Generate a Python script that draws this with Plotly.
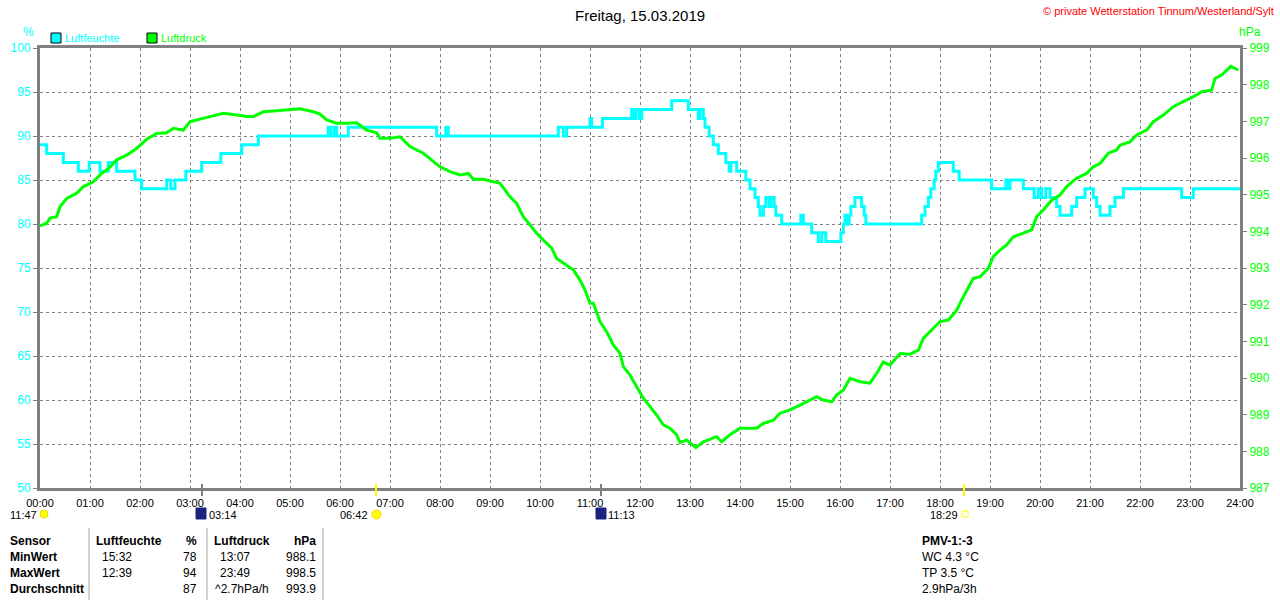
import plotly.graph_objects as go

# Luftfeuchte (%), Stufen: Minute des Tages -> Wert
hum_min = [0, 8, 28, 46, 59, 72, 82, 92, 114, 122, 152, 157, 162, 175, 194, 217, 242, 262,
           346, 349, 353, 356, 370, 476, 487, 490, 622, 628, 632, 660, 662, 675, 710, 713,
           715, 719, 722, 758, 778, 790, 792, 796, 798, 803, 808, 814, 823, 827, 829, 836,
           847, 852, 858, 862, 864, 868, 871, 875, 877, 881, 883, 890, 913, 916, 926, 934,
           938, 943, 961, 964, 966, 968, 971, 973, 978, 986, 989, 991, 1058, 1062, 1066,
           1069, 1073, 1075, 1078, 1096, 1103, 1142, 1159, 1162, 1164, 1180, 1193, 1198,
           1202, 1207, 1212, 1220, 1224, 1238, 1244, 1254, 1264, 1268, 1272, 1284, 1290,
           1300, 1370, 1384, 1440]
hum_val = [89, 88, 87, 86, 87, 86, 87, 86, 85, 84, 85, 84, 85, 86, 87, 88, 89, 90,
           91, 90, 91, 90, 91, 90, 91, 90, 91, 90, 91, 92, 91, 92, 93, 92,
           93, 92, 93, 94, 93, 92, 93, 92, 91, 90, 89, 88, 87, 86, 87, 86,
           85, 84, 83, 82, 81, 82, 83, 82, 83, 82, 81, 80, 81, 80, 79, 78,
           79, 78, 79, 80, 81, 80, 81, 82, 83, 82, 81, 80, 81, 82, 83,
           84, 85, 86, 87, 86, 85, 84, 85, 84, 85, 84, 83, 84,
           83, 84, 83, 82, 81, 82, 83, 84, 83, 82, 81, 82, 83,
           84, 83, 84, 84]

# Luftdruck (hPa)
press_min = [0, 8, 12, 20, 24, 32, 44, 52, 64, 72, 84, 92, 104, 116, 128, 140, 152, 160,
             172, 180, 192, 208, 220, 236, 248, 256, 268, 284, 300, 312, 328, 336, 344,
             356, 368, 380, 392, 404, 408, 420, 432, 444, 460, 472, 480, 492, 504, 514,
             520, 532, 544, 552, 564, 572, 580, 588, 596, 604, 614, 620, 632, 640, 648,
             654, 660, 664, 672, 680, 688, 696, 700, 708, 716, 724, 732, 740, 748, 756,
             764, 768, 776, 787, 796, 804, 812, 818, 828, 840, 852, 860, 868, 880, 888,
             900, 912, 924, 932, 940, 950, 956, 964, 972, 984, 996, 1004, 1012, 1020,
             1032, 1044, 1054, 1060, 1070, 1080, 1090, 1100, 1106, 1112, 1120, 1128,
             1138, 1144, 1152, 1160, 1168, 1180, 1190, 1196, 1204, 1214, 1224, 1232,
             1244, 1256, 1264, 1272, 1282, 1292, 1296, 1308, 1316, 1328, 1336, 1348,
             1360, 1372, 1384, 1394, 1406, 1410, 1418, 1429, 1438]
press_val = [994.15, 994.22, 994.36, 994.4, 994.67, 994.9, 995.04, 995.22, 995.35, 995.54,
             995.75, 995.95, 996.08, 996.26, 996.51, 996.67, 996.69, 996.81, 996.76,
             996.99, 997.06, 997.15, 997.22, 997.17, 997.13, 997.13, 997.26, 997.29,
             997.33, 997.34, 997.26, 997.2, 997.04, 996.95, 996.95, 996.96, 996.76,
             996.69, 996.54, 996.54, 996.58, 996.31, 996.13, 995.9, 995.76, 995.63,
             995.54, 995.58, 995.42, 995.42, 995.35, 995.31, 994.94, 994.76, 994.4,
             994.17, 993.95, 993.76, 993.54, 993.26, 993.08, 992.95, 992.67, 992.4,
             992.04, 992.04, 991.54, 991.26, 990.9, 990.67, 990.31, 990.08, 989.76,
             989.45, 989.22, 988.99, 988.72, 988.63, 988.45, 988.24, 988.31, 988.1,
             988.26, 988.33, 988.4, 988.26, 988.45, 988.63, 988.63, 988.63, 988.76,
             988.85, 989.04, 989.13, 989.26, 989.4, 989.49, 989.4, 989.35, 989.54,
             989.67, 989.99, 989.9, 989.86, 990.13, 990.44, 990.35, 990.67, 990.65,
             990.76, 991.08, 991.31, 991.54, 991.58, 991.85, 992.13, 992.4, 992.72,
             992.76, 992.99, 993.31, 993.49, 993.63, 993.85, 993.95, 994.04, 994.4,
             994.58, 994.85, 994.99, 995.22, 995.45, 995.58, 995.76, 995.85, 996.13,
             996.22, 996.35, 996.44, 996.63, 996.76, 996.99, 997.17, 997.4, 997.54,
             997.67, 997.81, 997.85, 998.17, 998.26, 998.5, 998.4]

hour_labels = ["%02d:00" % h for h in range(25)]

FONT = "Liberation Sans, Arial, sans-serif"
CYAN = "#00FFFF"
GREEN = "#00FF00"
GRAY = "#808080"


# pixel -> paper coordinates (plot area 40..1240 x 48..488)
def px(x):
    return (x - 40) / 1200


def py(y):
    return (488 - y) / 440


fig = go.Figure()
fig.add_trace(go.Scatter(x=[m / 60 for m in hum_min], y=hum_val, mode="lines",
                         line=dict(color=CYAN, width=3, shape="hv"), name="Luftfeuchte"))
fig.add_trace(go.Scatter(x=[m / 60 for m in press_min], y=press_val, mode="lines",
                         line=dict(color=GREEN, width=3), name="Luftdruck", yaxis="y2"))

fig.update_layout(
    width=1280, height=600,
    margin=dict(l=40, r=40, t=48, b=112),
    paper_bgcolor="white", plot_bgcolor="white",
    showlegend=False,
    font=dict(family=FONT, size=12, color="black"),
    xaxis=dict(range=[0, 24], tickvals=list(range(25)), ticktext=hour_labels,
               showgrid=True, gridcolor=GRAY, griddash="3px,3px", gridwidth=1,
               showline=True, linecolor=GRAY, linewidth=3, mirror=True,
               ticks="outside", ticklen=3, tickcolor="white", zeroline=False,
               automargin=False, tickfont=dict(size=11, color="black")),
    yaxis=dict(range=[50, 100], dtick=5, showgrid=True, gridcolor=GRAY, griddash="3px,3px",
               showline=True, linecolor=GRAY, linewidth=3, mirror=True,
               ticks="outside", ticklen=4, tickcolor=GRAY, zeroline=False,
               automargin=False, tickfont=dict(size=12, color=CYAN)),
    yaxis2=dict(range=[987, 999], dtick=1, overlaying="y", side="right", showgrid=False,
                showline=True, linecolor=GRAY, linewidth=3, ticks="outside", ticklen=4,
                tickcolor=GRAY, zeroline=False, automargin=False,
                tickfont=dict(size=12, color=GREEN)),
)

ann = []


def text(x, y, s, color="black", size=12, xanchor="left", bold=False):
    if bold:
        s = "<b>" + s + "</b>"
    ann.append(dict(x=px(x), y=py(y), xref="paper", yref="paper", text=s, showarrow=False,
                    xanchor=xanchor, yanchor="middle", font=dict(family=FONT, size=size, color=color)))


text(640, 15, "Freitag, 15.03.2019", size=15, xanchor="center")
text(1276, 11, "© private Wetterstation Tinnum/Westerland/Sylt", color="red", size=11, xanchor="right")
text(28, 32, "%", color=CYAN, xanchor="center")
text(1250, 32, "hPa", color=GREEN, xanchor="center")
text(63, 38, "Luftfeuchte", color=CYAN, size=11)
text(159, 38, "Luftdruck", color=GREEN, size=11)

# Sonne / Mond
text(8, 515, "11:47", size=11)
text(207, 515, "03:14", size=11)
text(370, 515, "06:42", size=11, xanchor="right")
text(606, 515, "11:13", size=11)
text(960, 515, "18:29", size=11, xanchor="right")

# Tabelle
rows_y = [541, 557, 573, 589]
text(8, rows_y[0], "Sensor", bold=True)
text(8, rows_y[1], "MinWert", bold=True)
text(8, rows_y[2], "MaxWert", bold=True)
text(8, rows_y[3], "Durchschnitt", bold=True)
text(94, rows_y[0], "Luftfeuchte", bold=True)
text(199, rows_y[0], "%", bold=True, xanchor="right")
text(100, rows_y[1], "15:32")
text(199, rows_y[1], "78", xanchor="right")
text(100, rows_y[2], "12:39")
text(199, rows_y[2], "94", xanchor="right")
text(199, rows_y[3], "87", xanchor="right")
text(212, rows_y[0], "Luftdruck", bold=True)
text(318, rows_y[0], "hPa", bold=True, xanchor="right")
text(218, rows_y[1], "13:07")
text(318, rows_y[1], "988.1", xanchor="right")
text(218, rows_y[2], "23:49")
text(318, rows_y[2], "998.5", xanchor="right")
text(213, rows_y[3], "^2.7hPa/h")
text(318, rows_y[3], "993.9", xanchor="right")
text(920, rows_y[0], "PMV-1:-3", bold=True)
text(920, rows_y[1], "WC 4.3 °C")
text(920, rows_y[2], "TP 3.5 °C")
text(920, rows_y[3], "2.9hPa/3h")

shapes = []


def rect(x0, y0, x1, y1, fill, line="black", w=1):
    shapes.append(dict(type="rect", xref="paper", yref="paper", x0=px(x0), x1=px(x1),
                       y0=py(y1), y1=py(y0), fillcolor=fill, line=dict(color=line, width=w)))


def vline(x, y0, y1, color, w=1):
    shapes.append(dict(type="line", xref="paper", yref="paper", x0=px(x), x1=px(x),
                       y0=py(y1), y1=py(y0), line=dict(color=color, width=w)))


rect(51, 33, 61, 43, CYAN)
rect(147, 33, 157, 43, GREEN)

# Markierungen an der Zeitachse
vline(202, 484, 496, GRAY, 2)
vline(601, 484, 496, GRAY, 2)
vline(376, 484, 496, "#FFFF00", 2)
vline(964, 484, 496, "#FFFF00", 2)
shapes.append(dict(type="circle", xref="paper", yref="paper", x0=px(40), x1=px(48),
                   y0=py(518), y1=py(510), fillcolor="#FFFF00", line=dict(color="#E0E000", width=1)))
rect(196, 508, 206, 519, "#1A237E", "#1A237E")
rect(596, 508, 606, 519, "#1A237E", "#1A237E")
shapes.append(dict(type="circle", xref="paper", yref="paper", x0=px(372), x1=px(381),
                   y0=py(519), y1=py(510), fillcolor="#FFFF00", line=dict(color="#FFD000", width=1)))
rect(962, 511, 968, 517, "white", "#FFFF00")

# Tabellen-Trennlinien
vline(89, 528, 600, "#A0A0A0")
vline(207, 528, 600, "#A0A0A0")
vline(323, 528, 600, "#A0A0A0")

fig.update_layout(annotations=ann, shapes=shapes)

# Seitenrand des Browsers entfernen, damit die Grafik bei (0,0) beginnt
fig.write_html("out.html", config={"displayModeBar": False},
               post_script="document.body.style.margin='0';document.body.style.overflow='hidden';")
